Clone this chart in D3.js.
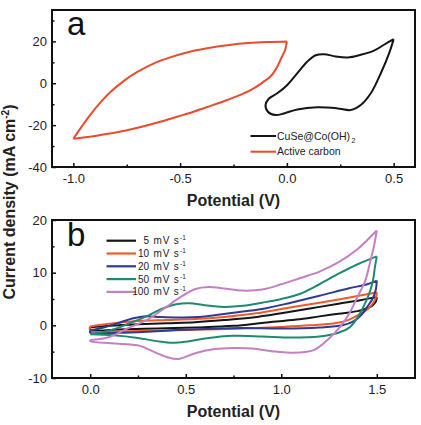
<!DOCTYPE html>
<html>
<head>
<meta charset="utf-8">
<script src="https://cdn.jsdelivr.net/npm/d3@7"></script>
<style>
  html, body { margin: 0; padding: 0; background: #fff; }
  svg { display: block; font-family: "Liberation Sans", Arial, Helvetica, sans-serif; }
</style>
</head>
<body>
<svg id="chart" width="421" height="425"></svg>
<script>
// ---------- Panel a data (potential V, current density mA cm^-2) ----------
const seriesA = ["CuSe@Co(OH)2", "Active carbon"];
const cuseLoop = [
  [0.5,21.1],[0.455,18.4],[0.408,15.6],[0.346,13.6],[0.284,12.3],[0.229,12.8],[0.174,13.9],
  [0.135,13.4],[0.096,10.4],[0.049,4.8],[0.002,-0.8],[-0.045,-4.8],[-0.085,-7.4],[-0.1,-10.4],
  [-0.089,-13.6],[-0.053,-15.2],[-0.014,-14.4],[0.049,-12.5],[0.143,-11.5],[0.237,-12.0],
  [0.299,-12.8],[0.346,-10.4],[0.393,-4.8],[0.44,4.8],[0.479,14.4],[0.5,21.1]
];
const acLoop = [
  [-1.0,-26.5],[-0.96,-20.6],[-0.92,-15.0],[-0.87,-8.8],[-0.82,-3.6],[-0.76,1.4],[-0.70,5.4],
  [-0.62,9.6],[-0.54,12.6],[-0.45,15.2],[-0.36,17.0],[-0.27,18.3],[-0.18,19.2],[-0.09,19.7],[0.0,20.0],
  [-0.008,16.0],[-0.03,11.2],[-0.05,7.0],[-0.077,3.2],[-0.115,0.3],[-0.155,-2.4],[-0.21,-5.2],
  [-0.28,-8.0],[-0.36,-10.9],[-0.437,-13.6],[-0.515,-16.0],[-0.593,-18.4],[-0.67,-20.5],
  [-0.749,-22.4],[-0.83,-24.0],[-0.906,-25.3],[-1.0,-26.5]
];
const xTicksA = [-1.0, -0.5, 0.0, 0.5];
const yTicksA = [20, 0, -20, -40];

// ---------- Panel b data ----------
const scanRates = ["5", "10", "20", "50", "100"];
const loop5 = [
  [0,-0.4],[0.1,-0.1],[0.25,0.2],[0.4,0.4],[0.55,0.6],[0.7,1.0],[0.85,1.5],[1.0,2.3],[1.15,3.2],
  [1.3,4.1],[1.42,4.8],[1.5,5.4],
  [1.495,4.5],[1.475,3.7],[1.44,3.1],[1.4,2.7],[1.3,2.2],[1.2,1.7],[1.08,1.1],[0.91,0.5],
  [0.75,-0.1],[0.55,-0.4],[0.35,-0.6],[0.15,-0.8],[0,-0.9],[0,-0.4]
];
const loop10 = [
  [0,-0.2],[0.1,0.3],[0.25,0.8],[0.4,1.0],[0.55,1.2],[0.7,1.6],[0.85,2.2],[1.0,3.1],[1.15,4.0],
  [1.3,4.9],[1.42,5.7],[1.5,6.3],
  [1.495,5.2],[1.48,4.2],[1.45,3.0],[1.4,1.9],[1.35,1.0],[1.28,0.4],[1.15,0.0],[1.0,-0.3],
  [0.8,-0.6],[0.6,-0.8],[0.4,-1.0],[0.2,-1.1],[0,-1.0],[0,-0.2]
];
const loop20 = [
  [0,-1.0],[0.08,-0.3],[0.16,0.6],[0.22,1.3],[0.28,1.7],[0.35,1.6],[0.45,1.5],[0.6,1.7],[0.75,2.4],
  [0.9,3.1],[1.05,4.3],[1.2,5.6],[1.35,7.0],[1.45,7.8],[1.5,8.5],
  [1.495,6.8],[1.48,5.2],[1.45,3.5],[1.42,2.0],[1.38,0.8],[1.32,0.0],[1.2,-0.4],[1.0,-0.6],
  [0.8,-0.5],[0.6,-0.7],[0.45,-0.9],[0.3,-1.2],[0.15,-1.4],[0,-1.4],[0,-1.0]
];
const loop50 = [
  [0,-1.7],[0.1,-1.0],[0.2,0.3],[0.3,1.8],[0.38,3.2],[0.45,4.0],[0.52,4.2],[0.6,3.8],[0.7,3.5],
  [0.8,3.7],[0.9,4.3],[1.0,5.0],[1.1,6.0],[1.2,7.8],[1.3,9.8],[1.4,11.6],[1.5,13.1],
  [1.49,11.0],[1.48,8.5],[1.46,6.0],[1.43,3.5],[1.4,1.5],[1.36,-0.3],[1.3,-1.4],[1.2,-2.1],
  [1.05,-2.3],[0.9,-2.1],[0.75,-2.0],[0.6,-2.5],[0.5,-3.1],[0.43,-3.3],[0.35,-3.0],[0.25,-2.4],
  [0.12,-1.9],[0,-1.7]
];
const loop100 = [
  [0,-2.8],[0.1,-2.2],[0.2,-0.5],[0.3,1.1],[0.38,3.0],[0.47,5.3],[0.55,6.9],[0.62,7.3],[0.7,7.0],
  [0.8,6.6],[0.9,6.8],[1.0,7.8],[1.1,9.0],[1.2,10.2],[1.3,12.0],[1.4,14.5],[1.5,18.0],
  [1.485,15.0],[1.465,12.0],[1.44,8.5],[1.4,5.5],[1.36,2.5],[1.31,-0.2],[1.25,-2.5],[1.17,-4.7],
  [1.05,-5.2],[0.95,-4.9],[0.85,-4.4],[0.75,-4.3],[0.65,-4.5],[0.55,-5.3],[0.46,-6.4],[0.4,-6.0],
  [0.33,-5.0],[0.26,-3.9],[0.15,-3.5],[0,-3.0],[0,-2.8]
];
const xTicksB = [0.0, 0.5, 1.0, 1.5];
const yTicksB = [20, 10, 0, -10];

// ---------- styling ----------
const colorsA = ["#151515", "#e94b2c"];
const colorsB = ["#151515", "#f05a2a", "#2f3a92", "#1f8a6f", "#c57fc6"];
const textColor = "#222";
const hyphen = f => d => f(d).replace("\u2212", "-");

const svg = d3.select("#chart");
svg.append("rect").attr("width", 421).attr("height", 425).attr("fill", "#fff");

// split a CV loop at its vertex potential (max V) so the turn stays sharp
function branches(lp) {
  const k = d3.maxIndex(lp, d => d[0]);
  return [lp.slice(0, k + 1), lp.slice(k)].filter(s => s.length > 1);
}

function drawPanel(cfg) {
  const g = svg.append("g");
  const x = d3.scaleLinear().domain(cfg.xDomain).range([52, 415]);
  const y = d3.scaleLinear().domain(cfg.yDomain).range([cfg.bottom, cfg.top]);

  const xMinor = g.append("g").attr("transform", `translate(0,${cfg.bottom})`)
    .call(d3.axisBottom(x).tickValues(cfg.xMinor).tickSize(-2.5).tickFormat(""));
  const yMinor = g.append("g").attr("transform", `translate(52,0)`)
    .call(d3.axisLeft(y).tickValues(cfg.yMinor).tickSize(-2.5).tickFormat(""));
  [xMinor, yMinor].forEach(a => { a.select(".domain").remove(); a.selectAll("line").attr("stroke", "#111").attr("stroke-width", 1.5); });

  const xAxis = g.append("g").attr("transform", `translate(0,${cfg.bottom})`)
    .call(d3.axisBottom(x).tickValues(cfg.xTicks).tickSize(-4).tickPadding(7).tickFormat(hyphen(d3.format(".1f"))));
  const yAxis = g.append("g").attr("transform", `translate(52,0)`)
    .call(d3.axisLeft(y).tickValues(cfg.yTicks).tickSize(-4).tickPadding(5).tickFormat(hyphen(d3.format("d"))));
  [xAxis, yAxis].forEach(a => {
    a.select(".domain").remove();
    a.selectAll("line").attr("stroke", "#111").attr("stroke-width", 1.5);
    a.selectAll("text").attr("font-size", 13).attr("fill", textColor)
      .attr("font-family", "'Liberation Sans', Arial, sans-serif");
  });

  const line = d3.line().x(d => x(d[0])).y(d => y(d[1])).curve(d3.curveCatmullRom.alpha(0.5));
  cfg.loops.forEach((lp, i) => {
    const d = branches(lp).map(s => line(s)).join("");
    g.append("path").attr("d", d).attr("fill", "none")
      .attr("stroke", cfg.colors[i]).attr("stroke-width", 2).attr("stroke-linejoin", "miter");
  });

  g.append("rect").attr("x", 52).attr("y", cfg.top).attr("width", 363).attr("height", cfg.bottom - cfg.top)
    .attr("fill", "none").attr("stroke", "#111").attr("stroke-width", 2);

  g.append("text").attr("x", 233.5).attr("y", cfg.xLabelY).attr("text-anchor", "middle")
    .attr("font-size", 16).attr("font-weight", "bold").attr("fill", textColor).text("Potential (V)");
  g.append("text").attr("x", 67).attr("y", cfg.letterY).attr("font-size", 33).attr("fill", "#111").text(cfg.letter);
  return { g, x, y };
}

// Panel a
const pa = drawPanel({
  xDomain: [-1.1, 0.6], yDomain: [-40, 35], top: 10, bottom: 167,
  xTicks: xTicksA, yTicks: yTicksA, xMinor: [-0.75, -0.25, 0.25], yMinor: [30, 10, -10, -30],
  loops: [cuseLoop, acLoop], colors: colorsA, xLabelY: 206, letter: "a", letterY: 35
});
seriesA.forEach((name, i) => {
  const ly = 136 + i * 15.7;
  pa.g.append("line").attr("x1", 250.5).attr("x2", 276).attr("y1", ly).attr("y2", ly)
    .attr("stroke", colorsA[i]).attr("stroke-width", 2);
  const t = pa.g.append("text").attr("x", 277).attr("y", ly + 3.7).attr("font-size", 10.5).attr("fill", textColor);
  if (name.endsWith("2")) {
    t.append("tspan").text(name.slice(0, -1));
    t.append("tspan").attr("font-size", 7).attr("dy", 3).attr("dx", 1.5).text("2");
  } else {
    t.text(name);
  }
});

// Panel b
const pb = drawPanel({
  xDomain: [-0.2, 1.7], yDomain: [-10, 20], top: 220, bottom: 378,
  xTicks: xTicksB, yTicks: yTicksB, xMinor: [0.25, 0.75, 1.25], yMinor: [15, 5, -5],
  loops: [loop5, loop10, loop20, loop50, loop100], colors: colorsB, xLabelY: 417, letter: "b", letterY: 246
});
scanRates.forEach((r, i) => {
  const ly = 240.7 + i * 12.8;
  pb.g.append("line").attr("x1", 106.5).attr("x2", 136).attr("y1", ly).attr("y2", ly)
    .attr("stroke", colorsB[i]).attr("stroke-width", 2.2);
  pb.g.append("text").attr("x", 149).attr("y", ly + 3.5).attr("text-anchor", "end")
    .attr("font-size", 10).attr("fill", textColor).text(r);
  const t = pb.g.append("text").attr("x", 153.5).attr("y", ly + 3.5)
    .attr("font-size", 10).attr("fill", textColor).attr("letter-spacing", 0.8);
  t.append("tspan").text("mV s");
  t.append("tspan").attr("font-size", 6.5).attr("dy", -4).attr("dx", 0.5).attr("letter-spacing", 0).text("-1");
});

// shared y label
const yl = svg.append("text").attr("transform", "translate(15,202) rotate(-90)")
  .attr("text-anchor", "middle").attr("font-size", 16).attr("font-weight", "bold").attr("fill", textColor);
yl.append("tspan").text("Current density (mA cm");
yl.append("tspan").attr("font-size", 10).attr("dy", -6).text("-2");
yl.append("tspan").attr("dy", 6).text(")");
</script>
</body>
</html>
